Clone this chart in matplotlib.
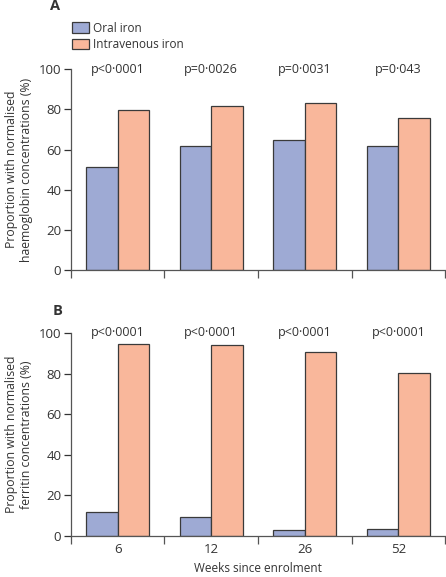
import matplotlib.pyplot as plt
import numpy as np

plt.rcParams['font.family'] = ['Open Sans', 'DejaVu Sans']

semanas = ["6", "12", "26", "52"]
series = ["Oral iron", "Intravenous iron"]

hb_oral = [51.1, 62.0, 64.7, 61.9]
hb_iv = [79.9, 81.6, 83.1, 75.8]
hb_p = ["p<0·0001", "p=0·0026", "p=0·0031", "p=0·043"]

fer_oral = [11.7, 9.6, 3.0, 3.6]
fer_iv = [94.6, 94.1, 90.6, 80.1]
fer_p = ["p<0·0001", "p<0·0001", "p<0·0001", "p<0·0001"]

azul = "#9eaad4"
laranja = "#f9b79b"
borda = "#3a3a3a"
texto = "#333333"

fig = plt.figure(figsize=(4.46, 5.77), dpi=100)
axA = fig.add_axes([0.159, 0.532, 0.839, 0.348])
axB = fig.add_axes([0.159, 0.071, 0.839, 0.352])

x = np.arange(len(semanas))
w = 0.335


def painel(ax, oral, iv, pvals, ylabel, show_x):
    ax.bar(x - w / 2, oral, w, color=azul, edgecolor=borda, linewidth=0.9, label=series[0])
    ax.bar(x + w / 2, iv, w, color=laranja, edgecolor=borda, linewidth=0.9, label=series[1])
    for i, p in enumerate(pvals):
        ax.text(x[i], 100, p, ha="center", va="center", fontsize=9, color=texto)
    ax.set_xlim(-0.5, len(semanas) - 0.5)
    ax.set_ylim(0, 100)
    ax.set_yticks([0, 20, 40, 60, 80, 100])
    ax.tick_params(axis="y", labelsize=9.5, colors=texto, length=5, width=0.9, pad=2)
    ax.set_xticks(np.arange(-0.5, len(semanas)), [""] * (len(semanas) + 1))
    ax.tick_params(axis="x", which="major", length=6, width=0.9, color="#555555")
    if show_x:
        ax.set_xticks(x, semanas, minor=True)
        ax.tick_params(axis="x", which="minor", length=0, labelsize=9.5, labelcolor=texto, pad=5)
        ax.set_xlabel("Weeks since enrolment", fontsize=8.5, color=texto, labelpad=4)
    for s in ["top", "right"]:
        ax.spines[s].set_visible(False)
    for s in ["left", "bottom"]:
        ax.spines[s].set_color("#555555")
        ax.spines[s].set_linewidth(0.9)
    ax.set_ylabel(ylabel, fontsize=8.8, color=texto, labelpad=4, linespacing=1.25)


painel(axA, hb_oral, hb_iv, hb_p,
       "Proportion with normalised\nhaemoglobin concentrations (%)", False)
painel(axB, fer_oral, fer_iv, fer_p,
       "Proportion with normalised\nferritin concentrations (%)", True)

axA.legend(loc="upper left", bbox_to_anchor=(-0.025, 1.29), frameon=False,
           fontsize=8.5, handlelength=1.45, handleheight=1.0, handletextpad=0.35,
           labelspacing=0.3, labelcolor=texto)

fig.text(0.112, 0.989, "A", fontsize=10.5, fontweight="bold", color=texto, va="center")
fig.text(0.117, 0.461, "B", fontsize=10.5, fontweight="bold", color=texto, va="center")

plt.savefig("out.png", dpi=100)
